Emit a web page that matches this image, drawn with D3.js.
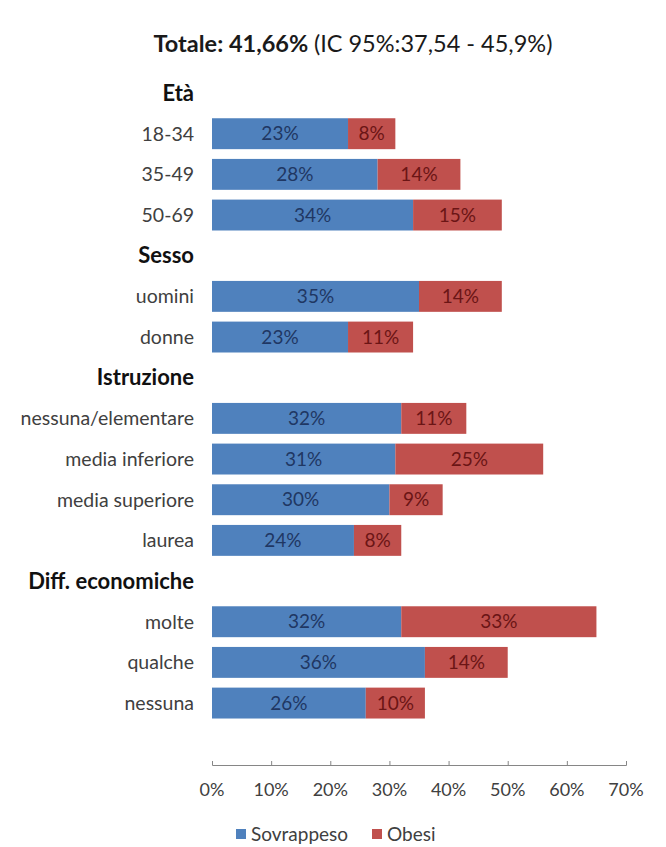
<!DOCTYPE html>
<html>
<head>
<meta charset="utf-8">
<script src="https://cdn.jsdelivr.net/npm/d3@7"></script>
<style>
  body { margin: 0; background: #fff; }
  svg { font-family: Lato, "Open Sans", sans-serif; }
</style>
</head>
<body>
<div id="chart"></div>
<script>
// groups and categories, top to bottom
var groups = [
  { name: "Età", cats: ["18-34", "35-49", "50-69"] },
  { name: "Sesso", cats: ["uomini", "donne"] },
  { name: "Istruzione", cats: ["nessuna/elementare", "media inferiore", "media superiore", "laurea"] },
  { name: "Diff. economiche", cats: ["molte", "qualche", "nessuna"] }
];
var sovrappeso = [23, 28, 34, 35, 23, 32, 31, 30, 24, 32, 36, 26];
var obesi = [8, 14, 15, 14, 11, 11, 25, 9, 8, 33, 14, 10];
var xTicks = [0, 10, 20, 30, 40, 50, 60, 70];

var svgWidth = 666, svgHeight = 847;

var svg = d3.select("#chart").append("svg")
  .attr("width", svgWidth)
  .attr("height", svgHeight);

// build row list (headers + categories)
var rows = [];
var catRows = [];
var k = 0;
groups.forEach(function(g) {
  rows.push({ key: "h:" + g.name, label: g.name, header: true });
  g.cats.forEach(function(c) {
    var r = { key: "c:" + c, label: c, header: false, s: sovrappeso[k], o: obesi[k] };
    rows.push(r);
    catRows.push(r);
    k++;
  });
});

var x = d3.scaleLinear().domain([0, 70]).range([212, 626]);
var y = d3.scaleBand()
  .domain(rows.map(d => d.key))
  .range([72.7, 723.4])
  .paddingInner(0.24)
  .paddingOuter(0.12);

// title
var title = svg.append("text")
  .attr("x", 353).attr("y", 52)
  .attr("text-anchor", "middle")
  .attr("font-size", 23.5)
  .attr("fill", "#1a1a1a");
title.append("tspan").attr("font-weight", "bold").text("Totale: 41,66% ");
title.append("tspan").text("(IC 95%:37,54 - 45,9%)");

// row labels
svg.selectAll(".rowlabel")
  .data(rows)
  .enter().append("text")
  .attr("class", "rowlabel")
  .attr("x", 194)
  .attr("y", d => y(d.key) + y.bandwidth() / 2)
  .attr("dy", "0.35em")
  .attr("text-anchor", "end")
  .attr("font-size", d => d.header ? 22 : 19.5)
  .attr("font-weight", d => d.header ? "bold" : "normal")
  .attr("fill", d => d.header ? "#111" : "#404040")
  .text(d => d.label);

// bars
var bars = svg.selectAll(".bar")
  .data(catRows)
  .enter().append("g")
  .attr("class", "bar");

bars.append("rect")
  .attr("x", x(0))
  .attr("y", d => y(d.key))
  .attr("width", d => x(d.s) - x(0))
  .attr("height", y.bandwidth())
  .attr("fill", "#4f81bd");

bars.append("rect")
  .attr("x", d => x(d.s))
  .attr("y", d => y(d.key))
  .attr("width", d => x(d.s + d.o) - x(d.s))
  .attr("height", y.bandwidth())
  .attr("fill", "#c0504d");

bars.append("text")
  .attr("x", d => (x(0) + x(d.s)) / 2)
  .attr("y", d => y(d.key) + y.bandwidth() / 2)
  .attr("dy", "0.35em")
  .attr("text-anchor", "middle")
  .attr("font-size", 19)
  .attr("fill", "#1f3763")
  .text(d => d.s + "%");

bars.append("text")
  .attr("x", d => (x(d.s) + x(d.s + d.o)) / 2)
  .attr("y", d => y(d.key) + y.bandwidth() / 2)
  .attr("dy", "0.35em")
  .attr("text-anchor", "middle")
  .attr("font-size", 19)
  .attr("fill", "#6b1515")
  .text(d => d.o + "%");

// x axis
var axis = svg.append("g")
  .attr("transform", "translate(0,765)")
  .call(d3.axisTop(x).tickValues(xTicks).tickSize(4).tickFormat(""));
axis.select(".domain").attr("stroke", "#868686");
axis.selectAll(".tick line").attr("stroke", "#868686");

svg.selectAll(".xlab")
  .data(xTicks)
  .enter().append("text")
  .attr("class", "xlab")
  .attr("x", d => x(d))
  .attr("y", 790)
  .attr("dy", "0.35em")
  .attr("text-anchor", "middle")
  .attr("font-size", 18)
  .attr("fill", "#404040")
  .text(d => d + "%");

// legend
var legend = [
  { name: "Sovrappeso", color: "#4f81bd", x: 236 },
  { name: "Obesi", color: "#c0504d", x: 372 }
];
var lg = svg.selectAll(".legend")
  .data(legend)
  .enter().append("g")
  .attr("class", "legend")
  .attr("transform", d => `translate(${d.x},834)`);
lg.append("rect")
  .attr("x", 0).attr("y", -5)
  .attr("width", 10).attr("height", 10)
  .attr("fill", d => d.color);
lg.append("text")
  .attr("x", 15).attr("y", 0)
  .attr("dy", "0.35em")
  .attr("font-size", 19)
  .attr("fill", "#404040")
  .text(d => d.name);
</script>
</body>
</html>
